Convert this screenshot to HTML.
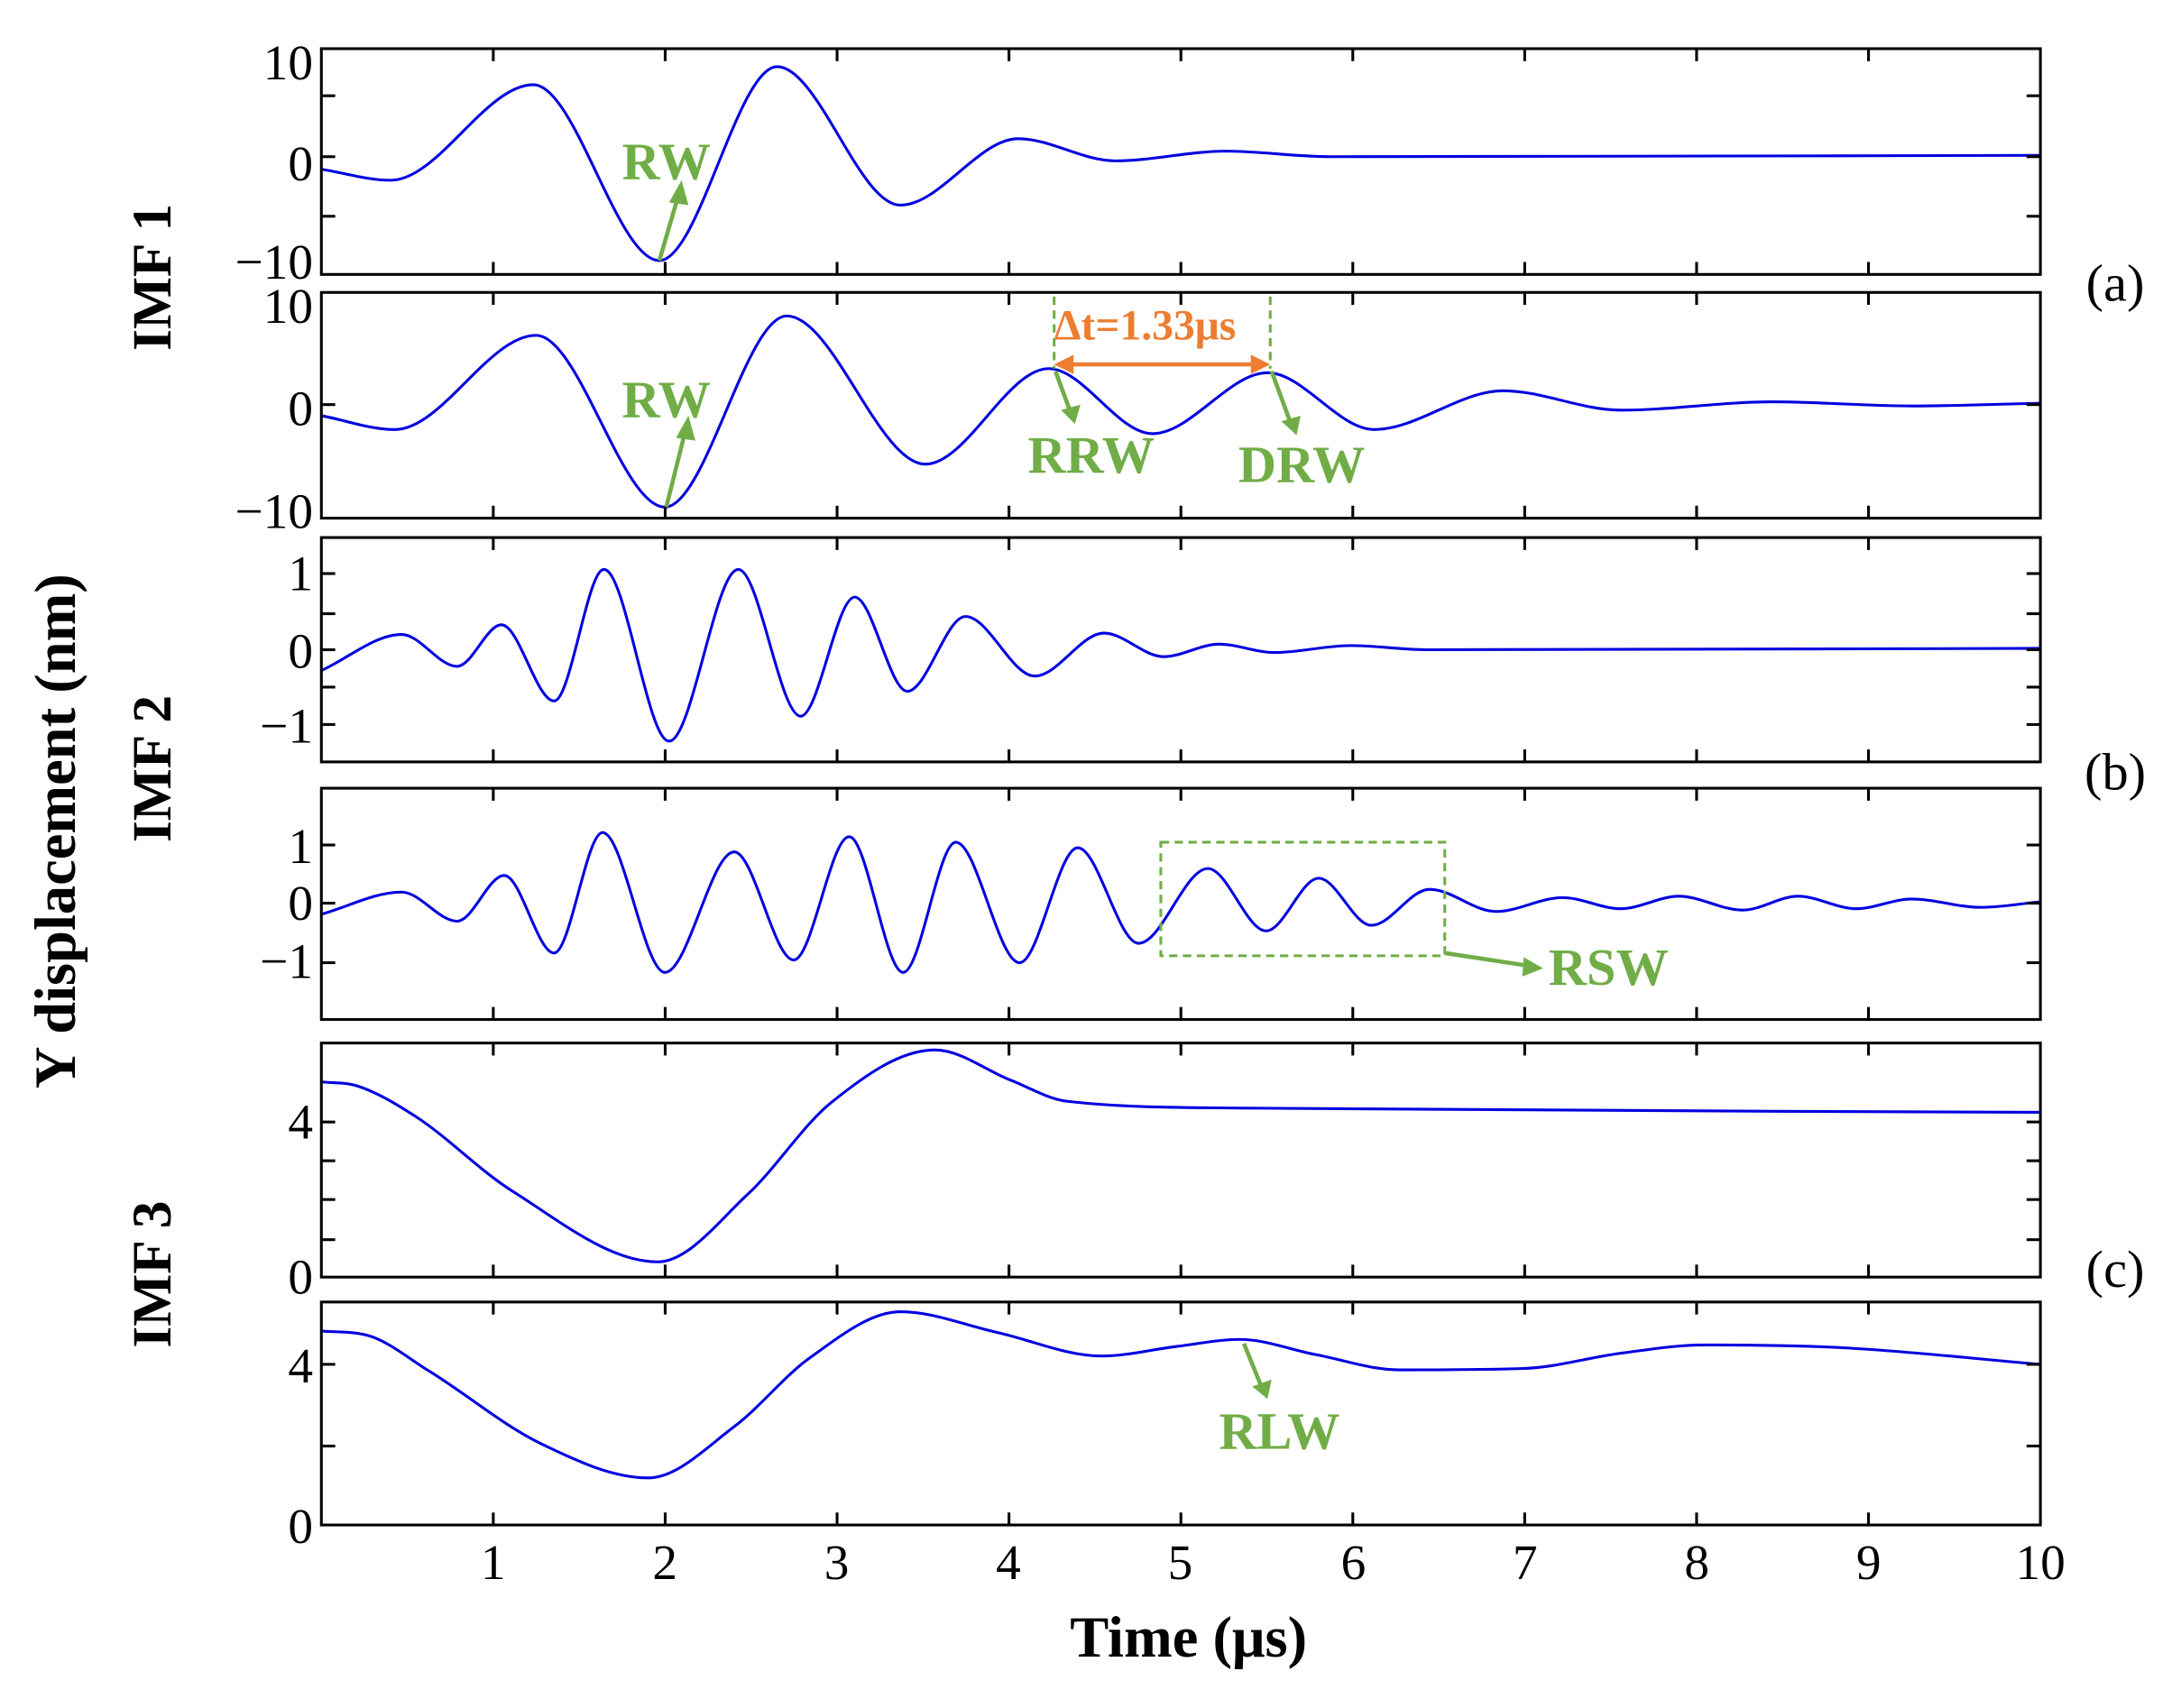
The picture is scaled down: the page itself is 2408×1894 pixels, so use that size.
<!DOCTYPE html>
<html><head><meta charset="utf-8"><style>
html,body{margin:0;padding:0;background:#fff}
svg{display:block}
text{font-family:"Liberation Serif",serif}
</style></head><body>
<svg id="s" width="2408" height="1894" viewBox="0 0 1568 1233" xmlns="http://www.w3.org/2000/svg">
<rect width="1568" height="1233" fill="#fff"/>
<g id="curves" fill="none" stroke="#0000e0" stroke-width="2"></g>
<g id="axes" fill="none" stroke="#000" stroke-width="2"></g>
<g font-size="36" fill="#000" text-anchor="end">
<text x="226" y="57">10</text><text x="226" y="130">0</text><text x="226" y="201">−10</text>
<text x="226" y="233">10</text><text x="226" y="307">0</text><text x="226" y="381">−10</text>
<text x="226" y="426">1</text><text x="226" y="482">0</text><text x="226" y="536">−1</text>
<text x="226" y="623">1</text><text x="226" y="664">0</text><text x="226" y="706">−1</text>
<text x="226" y="822">4</text><text x="226" y="934">0</text>
<text x="226" y="998">4</text><text x="226" y="1114">0</text>
</g>
<g font-size="36" fill="#000" text-anchor="middle">
<text x="356" y="1140">1</text><text x="480" y="1140">2</text><text x="604" y="1140">3</text><text x="728" y="1140">4</text><text x="852" y="1140">5</text><text x="977" y="1140">6</text><text x="1101" y="1140">7</text><text x="1225" y="1140">8</text><text x="1349" y="1140">9</text><text x="1473" y="1140">10</text>
</g>
<text x="858" y="1196" font-size="42" font-weight="bold" text-anchor="middle">Time (μs)</text>
<text transform="translate(54,600) rotate(-90)" font-size="42" font-weight="bold" text-anchor="middle">Y displacement (nm)</text>
<text transform="translate(123,200) rotate(-90)" font-size="40" font-weight="bold" text-anchor="middle">IMF 1</text>
<text transform="translate(123,555) rotate(-90)" font-size="40" font-weight="bold" text-anchor="middle">IMF 2</text>
<text transform="translate(123,920) rotate(-90)" font-size="40" font-weight="bold" text-anchor="middle">IMF 3</text>
<g font-size="38" text-anchor="middle"><text x="1527" y="217">(a)</text><text x="1527" y="570">(b)</text><text x="1527" y="929">(c)</text></g>
<g fill="#70ad47" stroke="none" font-weight="bold" font-size="38">
<text x="449" y="129">RW</text><text x="449" y="301">RW</text>
<text x="742" y="341">RRW</text><text x="894" y="348">DRW</text>
<text x="1118" y="711">RSW</text><text x="880" y="1046">RLW</text>
</g>
<text x="761" y="245" fill="#ed7d31" font-weight="bold" font-size="31">Δt=1.33μs</text>
<g stroke="#70ad47" stroke-width="3" fill="none">
<line x1="476" y1="188" x2="490" y2="140"/>
<line x1="481" y1="366" x2="495" y2="310"/>
<line x1="762" y1="268" x2="773" y2="298"/>
<line x1="918" y1="268" x2="932" y2="306"/>
<line x1="1043" y1="688" x2="1102" y2="697"/>
<line x1="898" y1="970" x2="911" y2="1002"/>
<g stroke-dasharray="6,4" stroke-width="2">
<line x1="761" y1="214" x2="761" y2="266"/><line x1="917" y1="214" x2="917" y2="266"/>
<rect x="838" y="608" width="205" height="82"/>
</g>
</g>
<g fill="#70ad47">
<polygon points="492,130 483,146 497,148"/>
<polygon points="497,300 488,316 502,318"/>
<polygon points="776,306 766,296 780,292"/>
<polygon points="936,314 925,304 939,300"/>
<polygon points="1114,699 1100,691 1099,705"/>
<polygon points="915,1010 904,1001 918,996"/>
</g>
<g stroke="#ed7d31" stroke-width="3"><line x1="772" y1="263" x2="906" y2="263"/></g>
<g fill="#ed7d31"><polygon points="761,263 775,256 775,270"/><polygon points="917,263 903,256 903,270"/></g>
</svg>
<script>
var NS="http://www.w3.org/2000/svg";
var panels=[[35,198,[113,69,156]],[211,374,[292]],[388,550,[414,443,469,496,523]],[569,736,[610,652,695]],[753,922,[810,838,866,895]],[940,1101,[985,1044]]];
var ax=document.getElementById("axes");
function L(x1,y1,x2,y2){var l=document.createElementNS(NS,"line");l.setAttribute("x1",x1);l.setAttribute("y1",y1);l.setAttribute("x2",x2);l.setAttribute("y2",y2);ax.appendChild(l);}
panels.forEach(function(p){var t=p[0],b=p[1];
var r=document.createElementNS(NS,"rect");r.setAttribute("x",232);r.setAttribute("y",t);r.setAttribute("width",1241);r.setAttribute("height",b-t);ax.appendChild(r);
for(var i=1;i<10;i++){var x=232+124.1*i;L(x,t,x,t+9);L(x,b,x,b-9);}
p[2].forEach(function(y){L(232,y,242,y);L(1473,y,1463,y);});});
var data=[
[[232,122],[282,130],[385,61],[476,188],[561,48],[650,148],[735,100],[805,116],[885,109],[960,113],[1473,112]],
[[232,300],[285,310],[387,242],[480,366],[568,228],[668,335],[757,266],[832,313],[915,269],[992,310],[1085,282],[1170,296],[1280,290],[1380,293],[1473,291]],
[[232,484],[290,458],[330,481],[362,451],[400,506],[436,411],[483,535],[533,411],[578,517],[617,431],[655,499],[697,445],[747,488],[797,457],[840,474],[880,465],[920,471],[975,466],[1030,469],[1473,468]],
[[232,660],[290,644],[330,665],[364,632],[400,688],[435,601],[480,702],[530,615],[573,693],[613,604],[652,702],[690,608],[736,695],[778,612],[822,681],[872,627],[914,672],[952,634],[990,668],[1032,642],[1080,658],[1128,648],[1170,656],[1212,647],[1258,657],[1298,647],[1340,656],[1380,649],[1430,655],[1473,651]],
[[232,781],[258,784],[300,806],[370,860],[475,911],[540,862],[600,796],[675,758],[730,780],[770,795],[900,800],[1473,803]],
[[232,961],[265,964],[310,990],[390,1042],[468,1067],[530,1030],[585,980],[650,947],[720,962],[795,979],[850,972],[895,967],[950,978],[1010,989],[1100,988],[1170,977],[1230,971],[1330,973],[1473,985]]];
var cg=document.getElementById("curves");
data.forEach(function(P){var n=P.length,d=[],m=[];
for(var i=0;i<n-1;i++)d.push((P[i+1][1]-P[i][1])/(P[i+1][0]-P[i][0]));
m[0]=d[0];m[n-1]=d[n-2];
for(i=1;i<n-1;i++){m[i]=(d[i-1]*d[i]<=0)?0:(d[i-1]+d[i])/2;}
for(i=0;i<n-1;i++){if(d[i]==0){m[i]=0;m[i+1]=0;continue;}var a=m[i]/d[i],b=m[i+1]/d[i],s=a*a+b*b;if(s>9){var t=3/Math.sqrt(s);m[i]=t*a*d[i];m[i+1]=t*b*d[i];}}
var s="M"+P[0][0]+","+P[0][1];
for(i=0;i<n-1;i++){var h=P[i+1][0]-P[i][0];
s+=" C"+(P[i][0]+h/3)+","+(P[i][1]+m[i]*h/3)+" "+(P[i+1][0]-h/3)+","+(P[i+1][1]-m[i+1]*h/3)+" "+P[i+1][0]+","+P[i+1][1];}
var pa=document.createElementNS(NS,"path");pa.setAttribute("d",s);cg.appendChild(pa);});
</script>
</body></html>
